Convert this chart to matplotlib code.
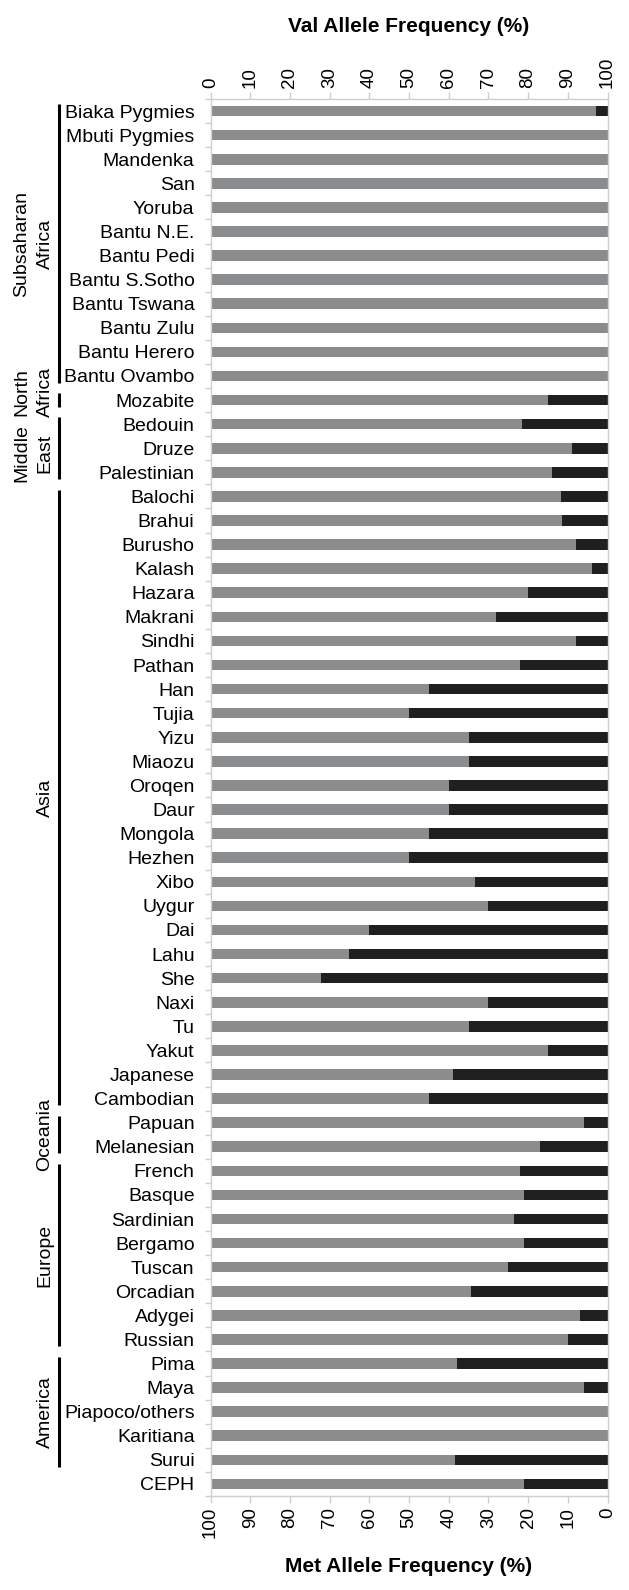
import matplotlib
matplotlib.use("Agg")
import matplotlib.pyplot as plt
import numpy as np

plt.rcParams['font.family'] = ['Liberation Sans', 'DejaVu Sans']

populations = ["Biaka Pygmies", "Mbuti Pygmies", "Mandenka", "San", "Yoruba",
               "Bantu N.E.", "Bantu Pedi", "Bantu S.Sotho", "Bantu Tswana",
               "Bantu Zulu", "Bantu Herero", "Bantu Ovambo", "Mozabite",
               "Bedouin", "Druze", "Palestinian", "Balochi", "Brahui", "Burusho",
               "Kalash", "Hazara", "Makrani", "Sindhi", "Pathan", "Han", "Tujia",
               "Yizu", "Miaozu", "Oroqen", "Daur", "Mongola", "Hezhen", "Xibo",
               "Uygur", "Dai", "Lahu", "She", "Naxi", "Tu", "Yakut", "Japanese",
               "Cambodian", "Papuan", "Melanesian", "French", "Basque",
               "Sardinian", "Bergamo", "Tuscan", "Orcadian", "Adygei", "Russian",
               "Pima", "Maya", "Piapoco/others", "Karitiana", "Surui", "CEPH"]

# Met allele frequency (%) (gray); Val = 100 - Met (black)
met = [97, 100, 100, 100, 100, 100, 100, 100, 100, 100, 100, 100, 85,
       78.5, 91, 86, 88.3, 88.6, 92, 96, 80, 72, 92, 78, 55, 50,
       65, 65, 60, 60, 55, 50, 66.7,
       70, 40, 35, 27.8, 70, 65, 85, 61,
       55, 94, 83, 78, 79,
       76.5, 79, 75, 65.6, 93, 90,
       62, 94, 100, 100, 61.5, 79]
val = [100 - m for m in met]

group_names = ["Subsaharan\nAfrica", "North\nAfrica", "Middle\nEast", "Asia",
               "Oceania", "Europe", "America"]
group_first = [0, 12, 13, 16, 42, 44, 52]
group_last = [11, 12, 15, 41, 43, 51, 56]

top_ticks = [0, 10, 20, 30, 40, 50, 60, 70, 80, 90, 100]

# small vertical nudges of group labels (in category units)
label_shift = {"North\nAfrica": -0.35, "Middle\nEast": 0.2}

W, H = 629, 1590
fig = plt.figure(figsize=(W / 100, H / 100), dpi=100)
left, right = 210.5 / W, 607.5 / W
top, bottom = 99 / H, 1496 / H
ax = fig.add_axes([left, 1 - bottom, right - left, bottom - top])

y = np.arange(len(populations))
ax.barh(y, met, height=0.44, color="#8b8c8e", linewidth=0)
ax.barh(y, val, left=met, height=0.44, color="#1f1f1f", linewidth=0)

ax.set_xlim(0, 100)
ax.set_ylim(len(populations) - 0.5, -0.5)

spine_col = "#cfcfcf"
for s in ax.spines.values():
    s.set_color(spine_col)
    s.set_linewidth(1.0)

fs = 14
ax.set_yticks(y)
ax.set_yticklabels(populations, fontsize=fs)
ax.tick_params(axis='y', which='major', length=0, pad=11.5)
ax.set_yticks(np.arange(len(populations) + 1) - 0.5, minor=True)
ax.tick_params(axis='y', which='minor', length=4, color=spine_col, width=1)

ax.set_xticks(top_ticks)
ax.xaxis.tick_top()
ax.tick_params(axis='x', which='major', length=5, color=spine_col, width=1,
               labelsize=13.5, labelrotation=90, pad=3)
ax.set_xticklabels([str(t) for t in top_ticks])

sec = ax.secondary_xaxis('bottom', functions=(lambda x: 100 - x, lambda x: 100 - x))
sec.set_xticks(top_ticks)
sec.set_xticklabels([str(t) for t in top_ticks])
sec.tick_params(axis='x', length=5, color=spine_col, width=1, labelsize=13.5,
                labelrotation=90, pad=3)
sec.spines['bottom'].set_color(spine_col)

fig.text((left + right) / 2, 1 - 27 / H, "Val Allele Frequency (%)",
         ha='center', va='center', fontsize=15, fontweight='bold')
fig.text((left + right) / 2, 1 - 1567 / H, "Met Allele Frequency (%)",
         ha='center', va='center', fontsize=15, fontweight='bold')

# group brackets
trans = matplotlib.transforms.blended_transform_factory(fig.transFigure, ax.transData)
line_x = 59 / W
gap = 0.22
for name, i0, i1 in zip(group_names, group_first, group_last):
    ax.plot([line_x, line_x], [i0 - 0.5 + gap, i1 + 0.5 - gap], transform=trans,
            color='black', linewidth=2.2, clip_on=False, solid_capstyle='butt')
    yc = (i0 + i1) / 2 + label_shift.get(name, 0)
    lines = name.split("\n")
    if len(lines) == 2:
        ax.text(22 / W, yc, lines[0], transform=trans, rotation=90,
                ha='center', va='center', fontsize=fs)
        ax.text(45 / W, yc, lines[1], transform=trans, rotation=90,
                ha='center', va='center', fontsize=fs)
    else:
        ax.text(45 / W, yc, lines[0], transform=trans, rotation=90,
                ha='center', va='center', fontsize=fs)

fig.savefig("out.png", dpi=100, facecolor='white')
